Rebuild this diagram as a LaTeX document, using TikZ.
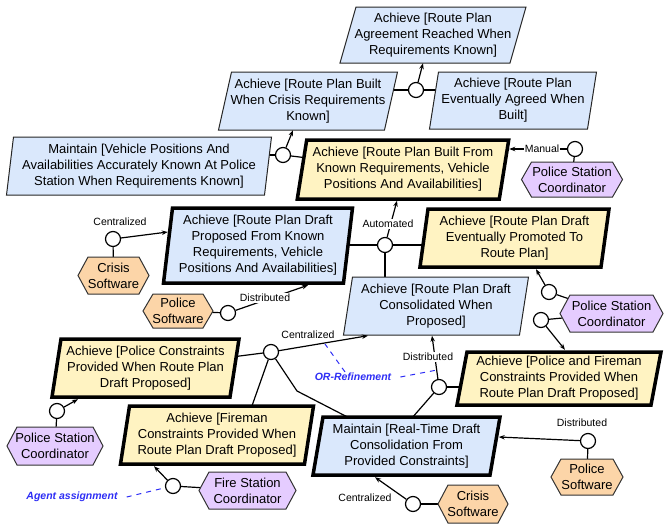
\documentclass[tikz,border=0pt]{standalone}
\usepackage{fontspec}
\setmainfont{Liberation Sans}
\usetikzlibrary{arrows.meta,calc,backgrounds}
\definecolor{gblue}{HTML}{DAE8FC}
\definecolor{gyellow}{HTML}{FFF3C2}
\definecolor{aorange}{HTML}{FCD5A8}
\definecolor{apurple}{HTML}{E5CCFF}
\definecolor{annot}{RGB}{45,45,245}
\tikzset{
 gtext/.style={inner sep=0pt, align=center, font=\fontsize{13}{16}\selectfont},
 thinblue/.style={draw=black!85, line width=1pt, fill=gblue},
 thickblue/.style={draw=black, line width=3.5pt, fill=gblue},
 thickyellow/.style={draw=black, line width=3.5pt, fill=gyellow},
 agentorange/.style={draw=black!80, line width=1pt, fill=aorange},
 agentpurple/.style={draw=black!80, line width=1pt, fill=apurple},
 conn/.style={draw=black, line width=1.2pt},
 arr/.style={conn, -{Stealth[length=6pt,width=4.5pt]}},
 circ/.style={circle, draw=black, line width=1.2pt, fill=white, minimum size=15pt, inner sep=0pt},
 lbl/.style={font=\fontsize{10.5}{11}\selectfont, inner sep=1pt},
 onlbl/.style={lbl, fill=white},
 annotlbl/.style={font=\fontsize{10.5}{11}\selectfont\bfseries\itshape, text=annot, inner sep=1pt},
 annotline/.style={draw=annot, line width=1pt, dash pattern=on 5pt off 5pt},
}
% name, cx, cy, half width, half height, half slant, style, text
\newcommand\goalbox[8]{%
 \draw[#7] ({#2-#4+#6},{#3-#5}) -- ({#2+#4+#6},{#3-#5}) -- ({#2+#4-#6},{#3+#5}) -- ({#2-#4-#6},{#3+#5}) -- cycle;
 \node[gtext, minimum width={2*#4}, minimum height={2*#5}] (#1) at (#2,#3) {#8};}
% name, cx, cy, width, height, style, text
\newcommand\agentbox[7]{%
 \draw[#6] ({#2-#4/2},#3) -- ({#2-#4/2+10},{#3-#5/2}) -- ({#2+#4/2-10},{#3-#5/2}) -- ({#2+#4/2},#3) -- ({#2+#4/2-10},{#3+#5/2}) -- ({#2-#4/2+10},{#3+#5/2}) -- cycle;
 \node[gtext, minimum width=#4, minimum height=#5] (#1) at (#2,#3) {#7};}
\begin{document}
\begin{tikzpicture}[x=1pt,y=-1pt]
\useasboundingbox (0,0) rectangle (664,525);
% goals
\goalbox{gAgree}{433}{35}{85}{28}{8}{thinblue}{Achieve [Route Plan\\Agreement Reached When\\Requirements Known]}
\goalbox{gCrisis}{308}{101}{83}{29}{6.5}{thinblue}{Achieve [Route Plan Built\\When Crisis Requirements\\Known]}
\goalbox{gEvent}{513}{100.5}{79}{28.5}{4.5}{thinblue}{Achieve [Route Plan\\Eventually Agreed When\\Built]}
\goalbox{gVehicle}{139}{166}{129}{29}{3.5}{thinblue}{Maintain [Vehicle Positions And\\Availabilities Accurately Known At Police\\Station When Requirements Known]}
\goalbox{gBuilt}{403}{169.5}{101}{29.5}{4.7}{thickyellow}{Achieve [Route Plan Built From\\Known Requirements, Vehicle\\Positions And Availabilities]}
\goalbox{gDraft}{258}{245.5}{90}{37.5}{4.5}{thickblue}{Achieve [Route Plan Draft\\Proposed From Known\\Requirements, Vehicle\\Positions And Availabilities]}
\goalbox{gPromo}{514.5}{238}{90.5}{29}{4}{thickyellow}{Achieve [Route Plan Draft\\Eventually Promoted To\\Route Plan]}
\goalbox{gCons}{436}{306}{88}{29}{4.5}{thinblue}{Achieve [Route Plan Draft\\Consolidated When\\Proposed]}
\goalbox{gPF}{559}{378.5}{97}{26.5}{5}{thickyellow}{Achieve [Police and Fireman\\Constraints Provided When\\Route Plan Draft Proposed]}
\goalbox{gPC}{145.5}{368}{89}{29}{4.5}{thickyellow}{Achieve [Police Constraints\\Provided When Route Plan\\Draft Proposed]}
\goalbox{gFire}{217}{435}{92}{29}{4.5}{thickyellow}{Achieve [Fireman\\Constraints Provided When\\Route Plan Draft Proposed]}
\goalbox{gRT}{406.5}{446}{88.5}{29}{5}{thickblue}{Maintain [Real-Time Draft\\Consolidation From\\Provided Constraints]}
% agents
\agentbox{aPSC1}{572}{179.5}{101}{35}{agentpurple}{Police Station\\Coordinator}
\agentbox{aCS1}{113.5}{275.5}{71}{37}{agentorange}{Crisis\\Software}
\agentbox{aPS1}{178}{311}{70}{34}{agentorange}{Police\\Software}
\agentbox{aPSC2}{611.5}{313.5}{103}{37}{agentpurple}{Police Station\\Coordinator}
\agentbox{aPSC3}{55}{446}{96}{38}{agentpurple}{Police Station\\Coordinator}
\agentbox{aFSC}{247.5}{490.5}{97}{37}{agentpurple}{Fire Station\\Coordinator}
\agentbox{aPS2}{587}{477}{72}{36}{agentorange}{Police\\Software}
\agentbox{aCS2}{473}{504}{70}{38}{agentorange}{Crisis\\Software}
% refinement and assignment circles
\node[circ] (r1) at (416,90) {};
\node[circ] (r2) at (283,155) {};
\node[circ] (r3) at (385,245) {};
\node[circ] (r4) at (271,352) {};
\node[circ] (r5) at (439,387) {};
\node[circ] (c1) at (575,149) {};
\node[circ] (c2) at (113,239) {};
\node[circ] (c3) at (228,313) {};
\node[circ] (c4) at (549,292) {};
\node[circ] (c5) at (541,320) {};
\node[circ] (c6) at (57,411) {};
\node[circ] (c7) at (173,486) {};
\node[circ] (c8) at (588,441) {};
\node[circ] (c9) at (413,504) {};
\coordinate (k1) at (297,391);
\coordinate (orA) at (325,344);
\coordinate (orB) at (437,370);
\coordinate (agA) at (164,488);
% plain links (hidden under boxes)
\begin{scope}[on background layer]
\draw[conn] (r1) -- (r1 -| gCrisis.center);
\draw[conn] (r1) -- (r1 -| gEvent.center);
\draw[conn] (r2) -- (r2 -| gVehicle.center);
\draw[conn] (r2) -- (gBuilt.center);
\draw[conn] (r3) -- (r3 -| gDraft.center);
\draw[conn] (r3) -- (r3 -| gPromo.center);
\draw[conn] (r3) -- (r3 |- gCons.center);
\draw[conn] (r4) -- (gPC.center);
\draw[conn] (r4) -- ([xshift=35pt]gFire.north);
\draw[conn] (r4) -- (k1) -- ([xshift=-59.5pt]gRT.north);
\draw[conn] (r5) -- (r5 -| gPF.center);
\draw[conn] (r5) -- ([xshift=6.5pt]gRT.north);
\draw[conn] (c1) -- (aPSC1.center);
\draw[conn] (c2) -- (aCS1.center);
\draw[conn] (c3) -- (aPS1.center);
\draw[conn] (c4) -- (aPSC2.center);
\draw[conn] (c5) -- (aPSC2.center);
\draw[conn] (c6) -- (aPSC3.center);
\draw[conn] (c7) -- (aFSC.center);
\draw[conn] (c8) -- (aPS2.center);
\draw[conn] (c9) -- (aCS2.center);
\end{scope}
% arrows
\draw[arr] (r1) -- ([xshift=-10pt]gAgree.south);
\draw[arr] (r2) -- ([xshift=-15pt]gCrisis.south);
\draw[arr] (r3) -- ([xshift=-6pt,yshift=-1.5pt]gBuilt.south);
\draw[arr] (c1) -- ([xshift=5pt,yshift=20.5pt]gBuilt.east);
\draw[arr] (c2) -- ([yshift=13.5pt]gDraft.west);
\draw[arr] (c3) -- ([xshift=50pt,yshift=-2pt]gDraft.south);
\draw[arr] (c4) -- ([xshift=21.5pt,yshift=-2pt]gPromo.south);
\draw[arr] (c5) -- ([xshift=6pt,yshift=2pt]gPF.north);
\draw[arr] (c6) -- ([xshift=-67.5pt,yshift=-2pt]gPC.south);
\draw[arr] (c7) -- ([xshift=-63pt,yshift=-2pt]gFire.south);
\draw[arr] (c8) -- ([xshift=3.5pt,yshift=9pt]gRT.east);
\draw[arr] (c9) -- ([xshift=-31.5pt,yshift=-2pt]gRT.south);
\draw[arr] (r4) -- ([xshift=-68pt,yshift=-0.5pt]gCons.south);
\draw[arr] (r5) -- ([xshift=-4pt,yshift=-0.5pt]gCons.south);
% labels
\node[onlbl] (lManual) at (542,149) {Manual};
\node[onlbl] (lAuto) at (388,224) {Automated};
\node[lbl] (lCen1) at (120,222) {Centralized};
\node[onlbl] (lDist1) at (265,298) {Distributed};
\node[lbl] (lCen2) at (308,335) {Centralized};
\node[onlbl] (lDist2) at (428,357) {Distributed};
\node[lbl] (lDist3) at (582,423) {Distributed};
\node[lbl] (lCen3) at (365,498) {Centralized};
\node[annotlbl] (lOR) at (353,377) {OR-Refinement};
\node[annotlbl] (lAgent) at (72,497) {Agent assignment};
\draw[annotline] ([xshift=-8pt]lOR.north) -- (orA);
\draw[annotline] ([xshift=8pt]lOR.east) -- (orB);
\draw[annotline] ([xshift=8pt]lAgent.east) -- (agA);
\end{tikzpicture}
\end{document}
